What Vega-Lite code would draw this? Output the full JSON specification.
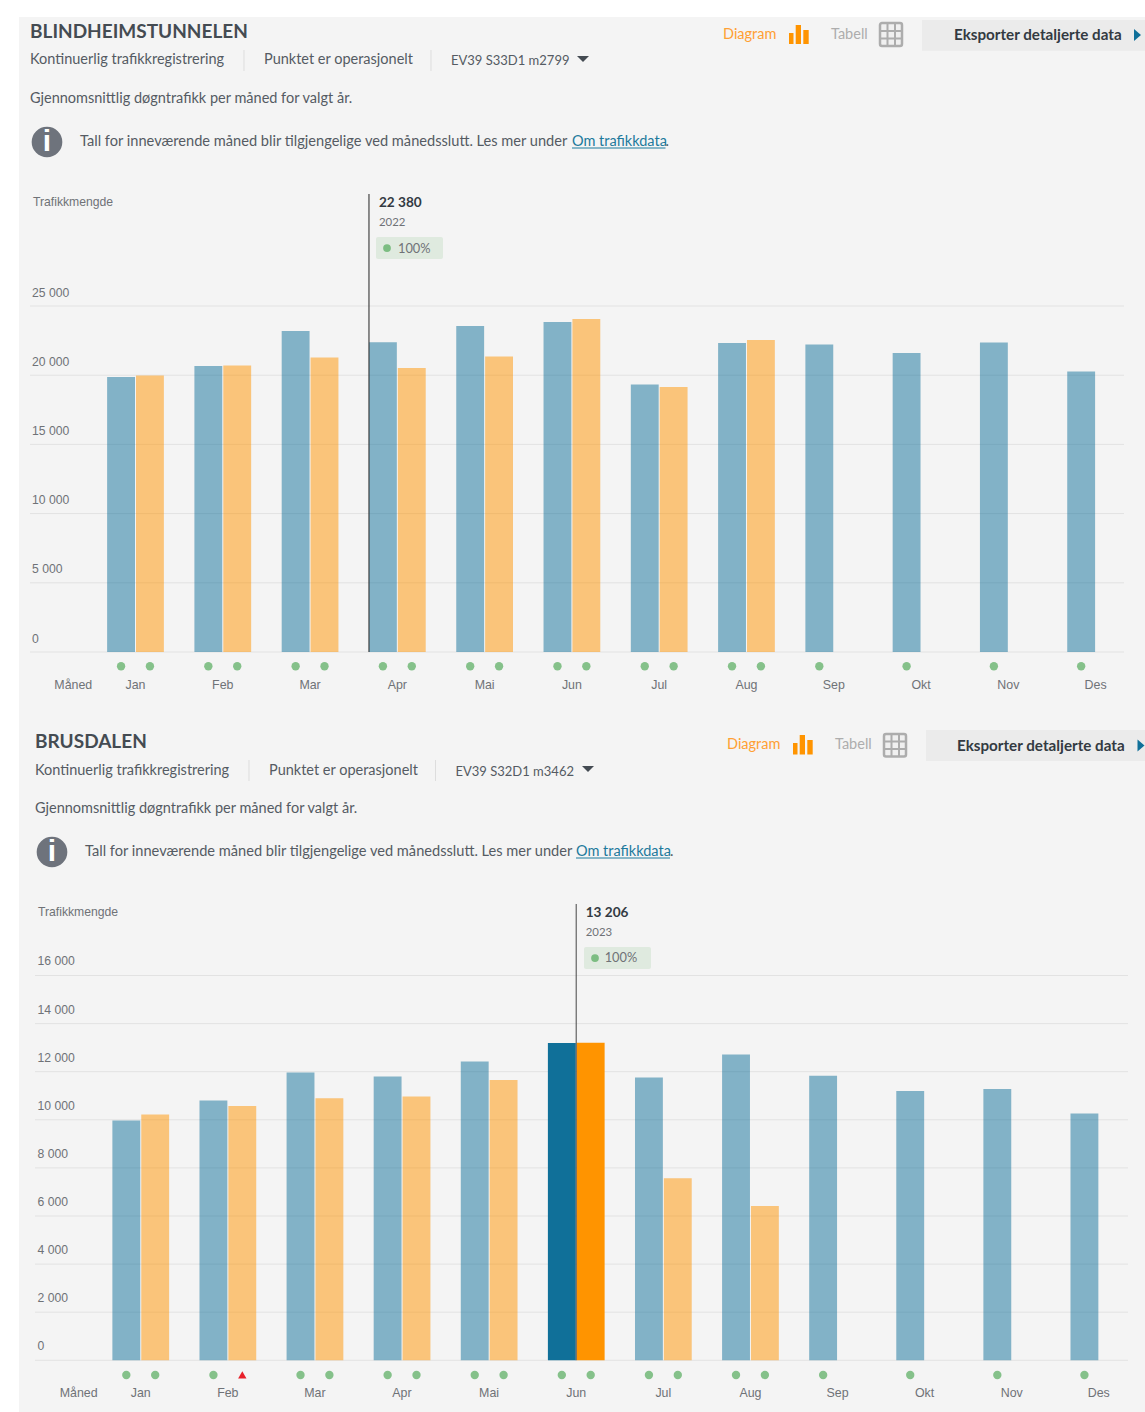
{"$schema":"https://vega.github.io/schema/vega-lite/v6.json","background":"#ffffff","padding":{"left":19,"top":17,"right":0,"bottom":0},"spacing":0,"bounds":"flush","config":{"view":{"fill":"#f4f4f4","stroke":null}},
"datasets":{
"months":[{"month":"Jan"},{"month":"Feb"},{"month":"Mar"},{"month":"Apr"},{"month":"Mai"},{"month":"Jun"},{"month":"Jul"},{"month":"Aug"},{"month":"Sep"},{"month":"Okt"},{"month":"Nov"},{"month":"Des"}],
"one":[{"item":"furniture"}],
"grid1":[{"tick":0},{"tick":5000},{"tick":10000},{"tick":15000},{"tick":20000},{"tick":25000}],
"grid2":[{"tick":0},{"tick":2000},{"tick":4000},{"tick":6000},{"tick":8000},{"tick":10000},{"tick":12000},{"tick":14000},{"tick":16000}],
"sel1":[{"month":"Apr","label":"22 380","yearLabel":"2022","share":"100%"}],
"sel2":[{"month":"Jun","label":"13 206","yearLabel":"2023","share":"100%"}],
"c1":[{"month":"Jan","year":"2022","value":19870,"status":"ok","active":"no"},{"month":"Feb","year":"2022","value":20665,"status":"ok","active":"no"},{"month":"Mar","year":"2022","value":23194,"status":"ok","active":"no"},{"month":"Apr","year":"2022","value":22380,"status":"ok","active":"no"},{"month":"Mai","year":"2022","value":23555,"status":"ok","active":"no"},{"month":"Jun","year":"2022","value":23844,"status":"ok","active":"no"},{"month":"Jul","year":"2022","value":19330,"status":"ok","active":"no"},{"month":"Aug","year":"2022","value":22327,"status":"ok","active":"no"},{"month":"Sep","year":"2022","value":22220,"status":"ok","active":"no"},{"month":"Okt","year":"2022","value":21600,"status":"ok","active":"no"},{"month":"Nov","year":"2022","value":22360,"status":"ok","active":"no"},{"month":"Des","year":"2022","value":20270,"status":"ok","active":"no"},{"month":"Jan","year":"2023","value":19980,"status":"ok","active":"no"},{"month":"Feb","year":"2023","value":20700,"status":"ok","active":"no"},{"month":"Mar","year":"2023","value":21280,"status":"ok","active":"no"},{"month":"Apr","year":"2023","value":20520,"status":"ok","active":"no"},{"month":"Mai","year":"2023","value":21350,"status":"ok","active":"no"},{"month":"Jun","year":"2023","value":24060,"status":"ok","active":"no"},{"month":"Jul","year":"2023","value":19150,"status":"ok","active":"no"},{"month":"Aug","year":"2023","value":22540,"status":"ok","active":"no"}],
"c2":[{"month":"Jan","year":"2022","value":9970,"status":"ok","active":"no"},{"month":"Feb","year":"2022","value":10800,"status":"ok","active":"no"},{"month":"Mar","year":"2022","value":11970,"status":"ok","active":"no"},{"month":"Apr","year":"2022","value":11800,"status":"ok","active":"no"},{"month":"Mai","year":"2022","value":12420,"status":"ok","active":"no"},{"month":"Jun","year":"2022","value":13190,"status":"ok","active":"yes"},{"month":"Jul","year":"2022","value":11760,"status":"ok","active":"no"},{"month":"Aug","year":"2022","value":12710,"status":"ok","active":"no"},{"month":"Sep","year":"2022","value":11830,"status":"ok","active":"no"},{"month":"Okt","year":"2022","value":11200,"status":"ok","active":"no"},{"month":"Nov","year":"2022","value":11280,"status":"ok","active":"no"},{"month":"Des","year":"2022","value":10260,"status":"ok","active":"no"},{"month":"Jan","year":"2023","value":10220,"status":"ok","active":"no"},{"month":"Feb","year":"2023","value":10570,"status":"low","active":"no"},{"month":"Mar","year":"2023","value":10900,"status":"ok","active":"no"},{"month":"Apr","year":"2023","value":10970,"status":"ok","active":"no"},{"month":"Mai","year":"2023","value":11650,"status":"ok","active":"no"},{"month":"Jun","year":"2023","value":13206,"status":"ok","active":"yes"},{"month":"Jul","year":"2023","value":7570,"status":"ok","active":"no"},{"month":"Aug","year":"2023","value":6415,"status":"ok","active":"no"}]
},
"vconcat":[
{"width":1126,"height":173,"data":{"name":"one"},"layer":[
{"mark":{"type":"text","text":"BLINDHEIMSTUNNELEN","align":"left","baseline":"middle","font":"Lato","fontWeight":"bold","fontSize":19,"color":"#444b52"},"encoding":{"x":{"datum":30,"type":"quantitative","scale":{"domain":[19,1145],"nice":false,"zero":false},"axis":null},"y":{"datum":32,"type":"quantitative","scale":{"domain":[190,17],"nice":false,"zero":false},"axis":null}}},
{"mark":{"type":"text","text":"Kontinuerlig trafikkregistrering","align":"left","baseline":"middle","font":"Lato","fontSize":14.5,"color":"#555b63"},"encoding":{"x":{"datum":30,"type":"quantitative"},"y":{"datum":60,"type":"quantitative"}}},
{"mark":{"type":"text","text":"Punktet er operasjonelt","align":"left","baseline":"middle","font":"Lato","fontSize":14.5,"color":"#555b63"},"encoding":{"x":{"datum":264,"type":"quantitative"},"y":{"datum":60,"type":"quantitative"}}},
{"mark":{"type":"text","text":"EV39 S33D1 m2799","align":"left","baseline":"middle","font":"Lato","fontSize":13,"color":"#555b63"},"encoding":{"x":{"datum":451,"type":"quantitative"},"y":{"datum":61,"type":"quantitative"}}},
{"mark":{"type":"point","filled":true,"shape":"M-1,-0.5L1,-0.5L0,0.5Z","size":144,"color":"#444b52","opacity":1},"encoding":{"x":{"datum":583,"type":"quantitative"},"y":{"datum":59,"type":"quantitative"}}},
{"mark":{"type":"rule","color":"#dddddd","strokeWidth":1},"encoding":{"x":{"datum":244,"type":"quantitative"},"y":{"datum":50,"type":"quantitative"},"y2":{"datum":71}}},
{"mark":{"type":"rule","color":"#dddddd","strokeWidth":1},"encoding":{"x":{"datum":431,"type":"quantitative"},"y":{"datum":50,"type":"quantitative"},"y2":{"datum":71}}},
{"mark":{"type":"text","text":"Gjennomsnittlig døgntrafikk per måned for valgt år.","align":"left","baseline":"middle","font":"Lato","fontSize":14.5,"color":"#555b63"},"encoding":{"x":{"datum":30,"type":"quantitative"},"y":{"datum":99,"type":"quantitative"}}},
{"mark":{"type":"point","filled":true,"shape":"circle","size":940,"color":"#6e737c","opacity":1},"encoding":{"x":{"datum":47,"type":"quantitative"},"y":{"datum":142,"type":"quantitative"}}},
{"mark":{"type":"text","text":"i","align":"center","baseline":"middle","font":"Liberation Sans","fontWeight":"bold","fontSize":30,"color":"#ffffff"},"encoding":{"x":{"datum":47,"type":"quantitative"},"y":{"datum":142,"type":"quantitative"}}},
{"mark":{"type":"text","text":"Tall for inneværende måned blir tilgjengelige ved månedsslutt. Les mer under","align":"left","baseline":"middle","font":"Lato","fontSize":14.62,"color":"#555b63"},"encoding":{"x":{"datum":80,"type":"quantitative"},"y":{"datum":142,"type":"quantitative"}}},
{"mark":{"type":"text","text":"Om trafikkdata","align":"left","baseline":"middle","font":"Lato","fontSize":14.5,"color":"#1d7a9c"},"encoding":{"x":{"datum":572,"type":"quantitative"},"y":{"datum":142,"type":"quantitative"}}},
{"mark":{"type":"text","text":".","align":"left","baseline":"middle","font":"Lato","fontSize":14.5,"color":"#555b63"},"encoding":{"x":{"datum":665.5,"type":"quantitative"},"y":{"datum":142,"type":"quantitative"}}},
{"mark":{"type":"rule","color":"#1d7a9c","strokeWidth":1},"encoding":{"x":{"datum":572,"type":"quantitative"},"x2":{"datum":665.5},"y":{"datum":148,"type":"quantitative"}}},
{"mark":{"type":"text","text":"Diagram","align":"left","baseline":"middle","font":"Lato","fontSize":14.5,"color":"#ffa033"},"encoding":{"x":{"datum":723,"type":"quantitative"},"y":{"datum":35,"type":"quantitative"}}},
{"mark":{"type":"rect","color":"#ff9400","opacity":1},"encoding":{"x":{"datum":789,"type":"quantitative"},"x2":{"datum":793.5},"y":{"datum":33,"type":"quantitative"},"y2":{"datum":44}}},
{"mark":{"type":"rect","color":"#ff9400","opacity":1},"encoding":{"x":{"datum":795.7,"type":"quantitative"},"x2":{"datum":801},"y":{"datum":25,"type":"quantitative"},"y2":{"datum":44}}},
{"mark":{"type":"rect","color":"#ff9400","opacity":1},"encoding":{"x":{"datum":803.3,"type":"quantitative"},"x2":{"datum":808.7},"y":{"datum":30,"type":"quantitative"},"y2":{"datum":44}}},
{"mark":{"type":"text","text":"Tabell","align":"left","baseline":"middle","font":"Lato","fontSize":14.5,"color":"#adadad"},"encoding":{"x":{"datum":831,"type":"quantitative"},"y":{"datum":35,"type":"quantitative"}}},
{"mark":{"type":"rect","fill":"#f0f0f0","stroke":"#adadad","strokeWidth":2.5,"cornerRadius":2,"opacity":1},"encoding":{"x":{"datum":880,"type":"quantitative"},"x2":{"datum":902},"y":{"datum":23,"type":"quantitative"},"y2":{"datum":46}}},
{"mark":{"type":"rule","color":"#adadad","strokeWidth":2},"encoding":{"x":{"datum":887.5,"type":"quantitative"},"y":{"datum":23,"type":"quantitative"},"y2":{"datum":46}}},
{"mark":{"type":"rule","color":"#adadad","strokeWidth":2},"encoding":{"x":{"datum":895,"type":"quantitative"},"y":{"datum":23,"type":"quantitative"},"y2":{"datum":46}}},
{"mark":{"type":"rule","color":"#adadad","strokeWidth":2},"encoding":{"x":{"datum":880,"type":"quantitative"},"x2":{"datum":902},"y":{"datum":31,"type":"quantitative"}}},
{"mark":{"type":"rule","color":"#adadad","strokeWidth":2},"encoding":{"x":{"datum":880,"type":"quantitative"},"x2":{"datum":902},"y":{"datum":38.5,"type":"quantitative"}}},
{"mark":{"type":"rect","color":"#ebebeb","opacity":1},"encoding":{"x":{"datum":922,"type":"quantitative"},"x2":{"datum":1145},"y":{"datum":20,"type":"quantitative"},"y2":{"datum":50.7}}},
{"mark":{"type":"text","text":"Eksporter detaljerte data","align":"left","baseline":"middle","font":"Lato","fontWeight":"bold","fontSize":15.2,"color":"#333a42"},"encoding":{"x":{"datum":954,"type":"quantitative"},"y":{"datum":35,"type":"quantitative"}}},
{"mark":{"type":"point","filled":true,"shape":"M-0.58,-1L0.58,0L-0.58,1Z","size":144,"color":"#107099","opacity":1},"encoding":{"x":{"datum":1137.5,"type":"quantitative"},"y":{"datum":35,"type":"quantitative"}}}
]},
{"width":1126,"height":518,"resolve":{"scale":{"x":"independent"}},"layer":[
{"layer":[
{"data":{"name":"grid1"},"mark":{"type":"rule","color":"#e2e2e2","strokeWidth":1},"encoding":{"x":{"datum":30,"type":"quantitative","scale":{"domain":[19,1145],"nice":false,"zero":false},"axis":null},"x2":{"datum":1124},"y":{"field":"tick","type":"quantitative","scale":{"domain":[-4046,33382],"nice":false,"zero":false},"axis":{"title":null,"values":[0,5000,10000,15000,20000,25000],"domain":false,"ticks":false,"grid":false,"labelAlign":"left","labelBaseline":"middle","labelPadding":-12.5,"labelOffset":-14,"labelFont":"Liberation Sans","labelFontSize":12.2,"labelColor":"#6f7277","labelExpr":"replace(format(datum.value,','),',',' ')","labelOverlap":false,"labelFlush":false}}}},
{"data":{"name":"one"},"mark":{"type":"text","text":"Trafikkmengde","align":"left","baseline":"middle","font":"Liberation Sans","fontSize":12.2,"color":"#6f7277"},"encoding":{"x":{"datum":33,"type":"quantitative"},"y":{"datum":32514,"type":"quantitative"}}},
{"data":{"name":"one"},"mark":{"type":"text","text":"Måned","align":"center","baseline":"middle","font":"Liberation Sans","fontSize":12.4,"color":"#6f7277"},"encoding":{"x":{"datum":73.3,"type":"quantitative"},"y":{"datum":-2385,"type":"quantitative"}}},
{"data":{"name":"one"},"mark":{"type":"rect","color":"#dfeadf","cornerRadius":2,"opacity":1},"encoding":{"x":{"datum":376,"type":"quantitative"},"x2":{"datum":443},"y":{"datum":29985,"type":"quantitative"},"y2":{"datum":28396}}},
{"data":{"name":"one"},"mark":{"type":"point","filled":true,"shape":"circle","size":60,"color":"#7cbd82","opacity":1},"encoding":{"x":{"datum":387,"type":"quantitative"},"y":{"datum":29191,"type":"quantitative"}}}
]},
{"resolve":{"scale":{"color":"independent"}},"layer":[
{"data":{"name":"c1"},"mark":{"type":"bar"},"encoding":{"x":{"field":"month","type":"nominal","scale":{"domain":["Jan","Feb","Mar","Apr","Mai","Jun","Jul","Aug","Sep","Okt","Nov","Des"],"range":[72.86,1120.24],"paddingInner":0.35,"paddingOuter":0.175},"axis":null},"xOffset":{"field":"year","type":"nominal","scale":{"domain":["2022","2023"],"paddingInner":0.035}},"y":{"field":"value","type":"quantitative"},"color":{"field":"year","type":"nominal","scale":{"domain":["2022","2023"],"range":["#107099","#ff9400"]},"legend":null},"opacity":{"field":"active","type":"nominal","scale":{"domain":["no","yes"],"range":[0.5,1]},"legend":null}}},
{"data":{"name":"c1"},"mark":{"type":"point","filled":true,"size":70,"opacity":1},"encoding":{"x":{"field":"month","type":"nominal"},"xOffset":{"field":"year","type":"nominal","scale":{"domain":["2022","2023"],"paddingInner":0.035}},"y":{"datum":-1033,"type":"quantitative"},"shape":{"field":"status","type":"nominal","scale":{"domain":["ok","low"],"range":["circle","triangle-up"]},"legend":null},"color":{"field":"status","type":"nominal","scale":{"domain":["ok","low"],"range":["#85c18a","#e8202a"]},"legend":null}}},
{"data":{"name":"months"},"mark":{"type":"text","align":"center","baseline":"middle","font":"Liberation Sans","fontSize":12.4,"color":"#6f7277"},"encoding":{"x":{"field":"month","type":"nominal"},"y":{"datum":-2385,"type":"quantitative"},"text":{"field":"month"}}},
{"data":{"name":"sel1"},"mark":{"type":"rule","color":"#222222","strokeWidth":1},"encoding":{"x":{"field":"month","type":"nominal","bandPosition":0},"y":{"datum":33092,"type":"quantitative"},"y2":{"datum":0}}},
{"data":{"name":"sel1"},"mark":{"type":"text","align":"left","baseline":"middle","font":"Lato","fontWeight":"bold","fontSize":13.6,"color":"#333a42","dx":10},"encoding":{"x":{"field":"month","type":"nominal","bandPosition":0},"y":{"datum":32442,"type":"quantitative"},"text":{"field":"label"}}},
{"data":{"name":"sel1"},"mark":{"type":"text","align":"left","baseline":"middle","font":"Lato","fontSize":11.4,"color":"#6f7277","dx":10},"encoding":{"x":{"field":"month","type":"nominal","bandPosition":0},"y":{"datum":30997,"type":"quantitative"},"text":{"field":"yearLabel"}}},
{"data":{"name":"sel1"},"mark":{"type":"text","align":"left","baseline":"middle","font":"Lato","fontSize":12.8,"color":"#6f7277","dx":29},"encoding":{"x":{"field":"month","type":"nominal","bandPosition":0},"y":{"datum":29150,"type":"quantitative"},"text":{"field":"share"}}}
]}
]},
{"width":1126,"height":192,"data":{"name":"one"},"layer":[
{"mark":{"type":"text","text":"BRUSDALEN","align":"left","baseline":"middle","font":"Lato","fontWeight":"bold","fontSize":19,"color":"#444b52"},"encoding":{"x":{"datum":35,"type":"quantitative","scale":{"domain":[19,1145],"nice":false,"zero":false},"axis":null},"y":{"datum":742,"type":"quantitative","scale":{"domain":[900,708],"nice":false,"zero":false},"axis":null}}},
{"mark":{"type":"text","text":"Kontinuerlig trafikkregistrering","align":"left","baseline":"middle","font":"Lato","fontSize":14.5,"color":"#555b63"},"encoding":{"x":{"datum":35,"type":"quantitative"},"y":{"datum":771,"type":"quantitative"}}},
{"mark":{"type":"text","text":"Punktet er operasjonelt","align":"left","baseline":"middle","font":"Lato","fontSize":14.5,"color":"#555b63"},"encoding":{"x":{"datum":269,"type":"quantitative"},"y":{"datum":771,"type":"quantitative"}}},
{"mark":{"type":"text","text":"EV39 S32D1 m3462","align":"left","baseline":"middle","font":"Lato","fontSize":13,"color":"#555b63"},"encoding":{"x":{"datum":455.5,"type":"quantitative"},"y":{"datum":771.5,"type":"quantitative"}}},
{"mark":{"type":"point","filled":true,"shape":"M-1,-0.5L1,-0.5L0,0.5Z","size":144,"color":"#444b52","opacity":1},"encoding":{"x":{"datum":588,"type":"quantitative"},"y":{"datum":769,"type":"quantitative"}}},
{"mark":{"type":"rule","color":"#dddddd","strokeWidth":1},"encoding":{"x":{"datum":249,"type":"quantitative"},"y":{"datum":760,"type":"quantitative"},"y2":{"datum":781}}},
{"mark":{"type":"rule","color":"#dddddd","strokeWidth":1},"encoding":{"x":{"datum":435.5,"type":"quantitative"},"y":{"datum":760,"type":"quantitative"},"y2":{"datum":781}}},
{"mark":{"type":"text","text":"Gjennomsnittlig døgntrafikk per måned for valgt år.","align":"left","baseline":"middle","font":"Lato","fontSize":14.5,"color":"#555b63"},"encoding":{"x":{"datum":35,"type":"quantitative"},"y":{"datum":809,"type":"quantitative"}}},
{"mark":{"type":"point","filled":true,"shape":"circle","size":940,"color":"#6e737c","opacity":1},"encoding":{"x":{"datum":52,"type":"quantitative"},"y":{"datum":852,"type":"quantitative"}}},
{"mark":{"type":"text","text":"i","align":"center","baseline":"middle","font":"Liberation Sans","fontWeight":"bold","fontSize":30,"color":"#ffffff"},"encoding":{"x":{"datum":52,"type":"quantitative"},"y":{"datum":852,"type":"quantitative"}}},
{"mark":{"type":"text","text":"Tall for inneværende måned blir tilgjengelige ved månedsslutt. Les mer under","align":"left","baseline":"middle","font":"Lato","fontSize":14.62,"color":"#555b63"},"encoding":{"x":{"datum":85,"type":"quantitative"},"y":{"datum":852,"type":"quantitative"}}},
{"mark":{"type":"text","text":"Om trafikkdata","align":"left","baseline":"middle","font":"Lato","fontSize":14.5,"color":"#1d7a9c"},"encoding":{"x":{"datum":576,"type":"quantitative"},"y":{"datum":852,"type":"quantitative"}}},
{"mark":{"type":"text","text":".","align":"left","baseline":"middle","font":"Lato","fontSize":14.5,"color":"#555b63"},"encoding":{"x":{"datum":670,"type":"quantitative"},"y":{"datum":852,"type":"quantitative"}}},
{"mark":{"type":"rule","color":"#1d7a9c","strokeWidth":1},"encoding":{"x":{"datum":576,"type":"quantitative"},"x2":{"datum":670},"y":{"datum":858,"type":"quantitative"}}},
{"mark":{"type":"text","text":"Diagram","align":"left","baseline":"middle","font":"Lato","fontSize":14.5,"color":"#ffa033"},"encoding":{"x":{"datum":727,"type":"quantitative"},"y":{"datum":745,"type":"quantitative"}}},
{"mark":{"type":"rect","color":"#ff9400","opacity":1},"encoding":{"x":{"datum":793,"type":"quantitative"},"x2":{"datum":797.5},"y":{"datum":743,"type":"quantitative"},"y2":{"datum":754.5}}},
{"mark":{"type":"rect","color":"#ff9400","opacity":1},"encoding":{"x":{"datum":799.7,"type":"quantitative"},"x2":{"datum":805},"y":{"datum":735,"type":"quantitative"},"y2":{"datum":754.5}}},
{"mark":{"type":"rect","color":"#ff9400","opacity":1},"encoding":{"x":{"datum":807.3,"type":"quantitative"},"x2":{"datum":812.7},"y":{"datum":740,"type":"quantitative"},"y2":{"datum":754.5}}},
{"mark":{"type":"text","text":"Tabell","align":"left","baseline":"middle","font":"Lato","fontSize":14.5,"color":"#adadad"},"encoding":{"x":{"datum":835,"type":"quantitative"},"y":{"datum":745,"type":"quantitative"}}},
{"mark":{"type":"rect","fill":"#f0f0f0","stroke":"#adadad","strokeWidth":2.5,"cornerRadius":2,"opacity":1},"encoding":{"x":{"datum":884,"type":"quantitative"},"x2":{"datum":906},"y":{"datum":734,"type":"quantitative"},"y2":{"datum":756.5}}},
{"mark":{"type":"rule","color":"#adadad","strokeWidth":2},"encoding":{"x":{"datum":891.5,"type":"quantitative"},"y":{"datum":734,"type":"quantitative"},"y2":{"datum":756.5}}},
{"mark":{"type":"rule","color":"#adadad","strokeWidth":2},"encoding":{"x":{"datum":899,"type":"quantitative"},"y":{"datum":734,"type":"quantitative"},"y2":{"datum":756.5}}},
{"mark":{"type":"rule","color":"#adadad","strokeWidth":2},"encoding":{"x":{"datum":884,"type":"quantitative"},"x2":{"datum":906},"y":{"datum":741.5,"type":"quantitative"}}},
{"mark":{"type":"rule","color":"#adadad","strokeWidth":2},"encoding":{"x":{"datum":884,"type":"quantitative"},"x2":{"datum":906},"y":{"datum":749,"type":"quantitative"}}},
{"mark":{"type":"rect","color":"#ebebeb","opacity":1},"encoding":{"x":{"datum":926,"type":"quantitative"},"x2":{"datum":1145},"y":{"datum":730,"type":"quantitative"},"y2":{"datum":761}}},
{"mark":{"type":"text","text":"Eksporter detaljerte data","align":"left","baseline":"middle","font":"Lato","fontWeight":"bold","fontSize":15.2,"color":"#333a42"},"encoding":{"x":{"datum":957,"type":"quantitative"},"y":{"datum":746,"type":"quantitative"}}},
{"mark":{"type":"point","filled":true,"shape":"M-0.58,-1L0.58,0L-0.58,1Z","size":144,"color":"#107099","opacity":1},"encoding":{"x":{"datum":1141,"type":"quantitative"},"y":{"datum":745.5,"type":"quantitative"}}}
]},
{"width":1126,"height":512,"resolve":{"scale":{"x":"independent"}},"layer":[
{"layer":[
{"data":{"name":"grid2"},"mark":{"type":"rule","color":"#e2e2e2","strokeWidth":1},"encoding":{"x":{"datum":35,"type":"quantitative","scale":{"domain":[19,1145],"nice":false,"zero":false},"axis":null},"x2":{"datum":1128},"y":{"field":"tick","type":"quantitative","scale":{"domain":[-2150,19139],"nice":false,"zero":false},"axis":{"title":null,"values":[0,2000,4000,6000,8000,10000,12000,14000,16000],"domain":false,"ticks":false,"grid":false,"labelAlign":"left","labelBaseline":"middle","labelPadding":-18,"labelOffset":-14.5,"labelFont":"Liberation Sans","labelFontSize":12.2,"labelColor":"#6f7277","labelExpr":"replace(format(datum.value,','),',',' ')","labelOverlap":false,"labelFlush":false}}}},
{"data":{"name":"one"},"mark":{"type":"text","text":"Trafikkmengde","align":"left","baseline":"middle","font":"Liberation Sans","fontSize":12.2,"color":"#6f7277"},"encoding":{"x":{"datum":38,"type":"quantitative"},"y":{"datum":18640,"type":"quantitative"}}},
{"data":{"name":"one"},"mark":{"type":"text","text":"Måned","align":"center","baseline":"middle","font":"Liberation Sans","fontSize":12.4,"color":"#6f7277"},"encoding":{"x":{"datum":78.7,"type":"quantitative"},"y":{"datum":-1360,"type":"quantitative"}}},
{"data":{"name":"one"},"mark":{"type":"rect","color":"#dfeadf","cornerRadius":2,"opacity":1},"encoding":{"x":{"datum":584,"type":"quantitative"},"x2":{"datum":651},"y":{"datum":17185,"type":"quantitative"},"y2":{"datum":16270}}},
{"data":{"name":"one"},"mark":{"type":"point","filled":true,"shape":"circle","size":60,"color":"#7cbd82","opacity":1},"encoding":{"x":{"datum":595,"type":"quantitative"},"y":{"datum":16727,"type":"quantitative"}}}
]},
{"resolve":{"scale":{"color":"independent"}},"layer":[
{"data":{"name":"c2"},"mark":{"type":"bar"},"encoding":{"x":{"field":"month","type":"nominal","scale":{"domain":["Jan","Feb","Mar","Apr","Mai","Jun","Jul","Aug","Sep","Okt","Nov","Des"],"range":[78.15,1123.35],"paddingInner":0.35,"paddingOuter":0.175},"axis":null},"xOffset":{"field":"year","type":"nominal","scale":{"domain":["2022","2023"],"paddingInner":0.035}},"y":{"field":"value","type":"quantitative"},"color":{"field":"year","type":"nominal","scale":{"domain":["2022","2023"],"range":["#107099","#ff9400"]},"legend":null},"opacity":{"field":"active","type":"nominal","scale":{"domain":["no","yes"],"range":[0.5,1]},"legend":null}}},
{"data":{"name":"c2"},"mark":{"type":"point","filled":true,"size":70,"opacity":1},"encoding":{"x":{"field":"month","type":"nominal"},"xOffset":{"field":"year","type":"nominal","scale":{"domain":["2022","2023"],"paddingInner":0.035}},"y":{"datum":-611,"type":"quantitative"},"shape":{"field":"status","type":"nominal","scale":{"domain":["ok","low"],"range":["circle","triangle-up"]},"legend":null},"color":{"field":"status","type":"nominal","scale":{"domain":["ok","low"],"range":["#85c18a","#e8202a"]},"legend":null}}},
{"data":{"name":"months"},"mark":{"type":"text","align":"center","baseline":"middle","font":"Liberation Sans","fontSize":12.4,"color":"#6f7277"},"encoding":{"x":{"field":"month","type":"nominal"},"y":{"datum":-1360,"type":"quantitative"},"text":{"field":"month"}}},
{"data":{"name":"sel2"},"mark":{"type":"rule","color":"#444444","strokeWidth":1},"encoding":{"x":{"field":"month","type":"nominal"},"y":{"datum":18973,"type":"quantitative"},"y2":{"datum":0}}},
{"data":{"name":"sel2"},"mark":{"type":"text","align":"left","baseline":"middle","font":"Lato","fontWeight":"bold","fontSize":13.6,"color":"#333a42","dx":9.5},"encoding":{"x":{"field":"month","type":"nominal"},"y":{"datum":18600,"type":"quantitative"},"text":{"field":"label"}}},
{"data":{"name":"sel2"},"mark":{"type":"text","align":"left","baseline":"middle","font":"Lato","fontSize":11.4,"color":"#6f7277","dx":9.5},"encoding":{"x":{"field":"month","type":"nominal"},"y":{"datum":17770,"type":"quantitative"},"text":{"field":"yearLabel"}}},
{"data":{"name":"sel2"},"mark":{"type":"text","align":"left","baseline":"middle","font":"Lato","fontSize":12.8,"color":"#6f7277","dx":28.5},"encoding":{"x":{"field":"month","type":"nominal"},"y":{"datum":16710,"type":"quantitative"},"text":{"field":"share"}}}
]}
]}
]}
